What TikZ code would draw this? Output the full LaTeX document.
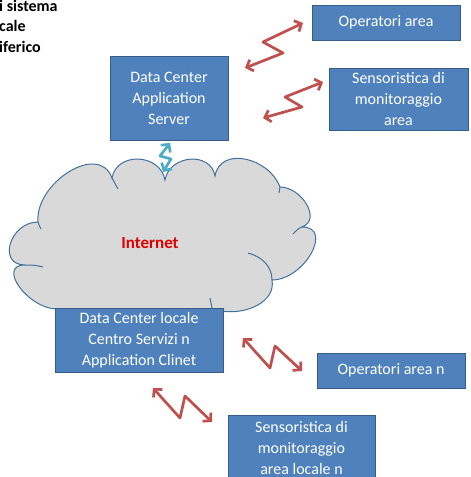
\documentclass[tikz,border=0pt]{standalone}
\usepackage{fontspec}
\setmainfont{Carlito}
\usetikzlibrary{arrows.meta}
\definecolor{boxfill}{HTML}{4F81BD}
\definecolor{boxline}{HTML}{385D8A}
\definecolor{cloudfill}{HTML}{D9D9D9}
\definecolor{cloudline}{HTML}{41719C}
\definecolor{zigred}{HTML}{C0504D}
\definecolor{zigcyan}{HTML}{4BACC6}
\definecolor{nettext}{HTML}{E00000}
\begin{document}
\begin{tikzpicture}[x=1pt,y=1pt,
  box/.style={draw=boxline, line width=0.9pt, fill=boxfill, text=white, align=center,
    inner sep=0pt, font=\fontsize{16}{21}\selectfont},
  zig/.style={line width=2.7pt, line join=round,
    {Straight Barb[length=5.5pt,width=12pt]}-{Straight Barb[length=5.5pt,width=12pt]}},
  cloudedge/.style={draw=cloudline, line width=1pt},
  title/.style={anchor=west, inner sep=0pt, font=\bfseries\fontsize{16}{16}\selectfont}
]
\clip (0,0) rectangle (471,477);
\fill[white] (0,0) rectangle (471,477);

% title fragment at top left
\node[title] (t1) at (-1,471) {i sistema};
\node[title] (t2) at (-1,451) {cale};
\node[title] (t3) at (-1,430) {iferico};

% cloud
\path[cloudedge, fill=cloudfill]
 (57,168) to[out=180,in=180,looseness=1.35] (25,212)
 to[out=180,in=180,looseness=1.6] (38,255)
 to[out=95,in=110,looseness=1.15] (112,299)
 to[out=80,in=100,looseness=1.3] (165,297)
 to[out=80,in=100,looseness=1.3] (215,301)
 to[out=80,in=110,looseness=1.2] (280,290)
 to[out=0,in=20,looseness=1.2] (302,250)
 to[out=0,in=0,looseness=1.35] (272,197)
 to[out=-80,in=-10] (222,166)
 -- cycle;
\draw[cloudedge] (25,212) to[out=0,in=165] (43,210);
\draw[cloudedge] (38,255) to[out=-80,in=110] (41,248);
\draw[cloudedge] (112,299) to[out=-60,in=120] (118,288);
\draw[cloudedge] (280,290) to[out=-100,in=80] (279,284);
\draw[cloudedge] (302,250) to[out=200,in=45] (293,243);
\draw[cloudedge] (248,224) to[out=-15,in=90] (272,197);
\draw[cloudedge] (210,179) to[out=-80,in=95] (212,168);

\node[font=\bfseries\fontsize{17}{17}\selectfont, text=nettext] (net) at (150,234) {Internet};

% boxes
\node[box, minimum width=118, minimum height=84] (dcas) at (169,379) {Data Center\\Application\\Server};
\node[box, minimum width=148, minimum height=35] (opa) at (386,454.5) {Operatori area};
\node[box, minimum width=139, minimum height=62] (sens) at (398.5,378) {Sensoristica di\\monitoraggio\\area};
\node[box, minimum width=168, minimum height=64] (dcl) at (139,137) {Data Center locale\\Centro Servizi n\\Application Clinet};
\node[box, minimum width=148, minimum height=35] (opan) at (391,106.5) {Operatori area n};
\node[box, minimum width=147, minimum height=66] (sensn) at (301.5,29) {Sensoristica di\\monitoraggio\\area locale n};

% zigzag connectors
\coordinate (r1a) at (303,454); \coordinate (r1b) at (263,435);
\coordinate (r1c) at (283,424); \coordinate (r1d) at (245,409);
\draw[zig, draw=zigred] (r1d) -- (r1c) -- (r1b) -- (r1a);

\coordinate (r2a) at (323,395); \coordinate (r2b) at (285,380);
\coordinate (r2c) at (302,370); \coordinate (r2d) at (263,359);
\draw[zig, draw=zigred] (r2d) -- (r2c) -- (r2b) -- (r2a);

\coordinate (r3a) at (243,139); \coordinate (r3b) at (270,109);
\coordinate (r3c) at (275,131); \coordinate (r3d) at (302,106);
\draw[zig, draw=zigred] (r3a) -- (r3b) -- (r3c) -- (r3d);

\coordinate (r4a) at (153,89); \coordinate (r4b) at (180,59);
\coordinate (r4c) at (185,81); \coordinate (r4d) at (212,55);
\draw[zig, draw=zigred] (r4a) -- (r4b) -- (r4c) -- (r4d);

\coordinate (c1a) at (170,334); \coordinate (c1b) at (160,321);
\coordinate (c1c) at (171,318); \coordinate (c1d) at (163,305);
\draw[zig, draw=zigcyan] (c1a) -- (c1b) -- (c1c) -- (c1d);
\end{tikzpicture}
\end{document}
